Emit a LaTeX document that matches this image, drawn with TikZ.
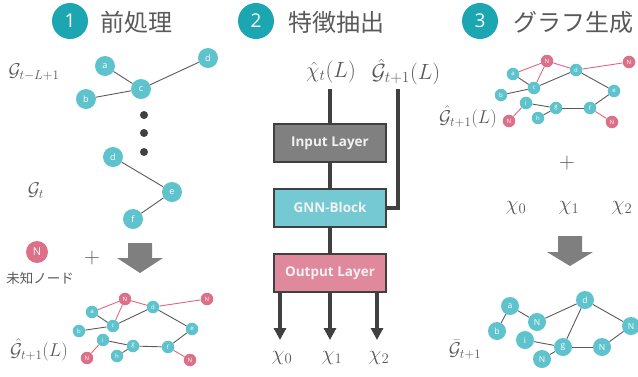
\RequirePackage{fix-cm}
\documentclass[tikz,border=0pt]{standalone}
\usepackage{fontspec}
\setsansfont{Open Sans}
\newfontfamily\jpfont{Noto Sans CJK JP}
\usetikzlibrary{arrows.meta}
\definecolor{headteal}{HTML}{1BA6B2}
\definecolor{nteal}{HTML}{5EC3CC}
\definecolor{npink}{HTML}{DB7088}
\definecolor{edgegray}{HTML}{5A5A5A}
\definecolor{edgered}{HTML}{E06680}
\definecolor{txtgray}{HTML}{595959}
\definecolor{dk}{HTML}{404040}
\definecolor{boxgray}{HTML}{808080}
\definecolor{boxteal}{HTML}{74C9D2}
\definecolor{boxpink}{HTML}{E0889C}
\definecolor{boxtxt}{HTML}{F2F2F2}
\definecolor{arrgray}{HTML}{7F7F7F}
\begin{document}
\begin{tikzpicture}[x=1pt,y=-1pt,
  hnum/.style={circle, fill=headteal, minimum size=36pt, inner sep=0pt, text=white, font=\sffamily\fontsize{19}{19}\selectfont},
  htext/.style={anchor=west, text=txtgray, inner sep=0pt, font=\jpfont\fontsize{24}{24}\selectfont},
  bn/.style={circle, fill=nteal, minimum size=20pt, inner sep=0pt, text=white, font=\sffamily\fontsize{9}{9}\selectfont},
  bnr/.style={bn, fill=npink},
  sn/.style={circle, fill=nteal, minimum size=12.5pt, inner sep=0pt, text=white, font=\sffamily\fontsize{6}{6}\selectfont},
  snr/.style={sn, fill=npink},
  mn/.style={circle, fill=nteal, minimum size=18pt, inner sep=0pt, text=white, font=\sffamily\fontsize{8.5}{8.5}\selectfont},
  ge/.style={draw=edgegray, line width=0.9pt},
  re/.style={draw=edgered, line width=0.9pt},
  lay/.style={draw=dk, line width=2pt, minimum width=112pt, minimum height=38pt, inner sep=0pt, text=boxtxt, font=\sffamily\bfseries\fontsize{13.5}{13.5}\selectfont},
  flow/.style={draw=dk, line width=4pt},
  mlab/.style={text=txtgray, inner sep=0pt, font=\fontsize{18.5}{18.5}\selectfont},
  blab/.style={text=txtgray, inner sep=0pt, font=\fontsize{22}{22}\selectfont},
  xlab/.style={text=txtgray, inner sep=0pt, font=\fontsize{21}{21}\selectfont},
  dotn/.style={circle, fill=dk, minimum size=8pt, inner sep=0pt},
  plus/.style={text=txtgray, inner sep=0pt, font=\fontsize{22}{22}\selectfont},
  tipped/.style={flow, -{Triangle[length=12pt,width=12pt]}}
]
\useasboundingbox (0,0) rectangle (638,376);

% headers
\node[hnum] (h1) at (70,21) {1};
\node[htext] (t1) at (100,22) {前処理};
\node[hnum] (h2) at (256,21) {2};
\node[htext] (t2) at (288,22) {特徴抽出};
\node[hnum] (h3) at (480,21) {3};
\node[htext] (t3) at (513,22) {グラフ生成};

% ---------- panel 1 ----------
\node[mlab] (lg1) at (34,72) {$\mathcal{G}_{t-L+1}$};
\node[bn] (pa) at (105,66) {a};
\node[bn] (pb) at (86,99) {b};
\node[bn] (pc) at (141,89) {c};
\node[bn] (pd) at (208,58) {d};
\draw[ge] (pa) -- (pc);
\draw[ge] (pb) -- (pc);
\draw[ge] (pc) -- (pd);
\node[dotn] (dot1) at (144,115) {};
\node[dotn] (dot2) at (144,133) {};
\node[dotn] (dot3) at (144,152) {};
\node[mlab] (lg2) at (36,191) {$\mathcal{G}_{t}$};
\node[bn] (qd) at (113,157) {d};
\node[bn] (qe) at (172,192) {e};
\node[bn] (qf) at (133,219) {f};
\draw[ge] (qd) -- (qe);
\draw[ge] (qe) -- (qf);

\node[bnr, minimum size=22pt, font=\sffamily\fontsize{11}{11}\selectfont] (unk) at (37,252) {N};
\node[text=txtgray, inner sep=0pt, font=\jpfont\fontsize{13.5}{13.5}\selectfont] (unkl) at (40,278) {未知ノード};
\node[plus] (pl1) at (92,258) {$+$};
\fill[arrgray] (128,243) -- (152,243) -- (152,258) -- (163,258) -- (140,273) -- (117,258) -- (128,258) -- cycle;

% bottom graph panel 1
\node[snr] (rN1) at (125,299) {N};
\node[snr] (rN2) at (207,299) {N};
\node[sn] (ra) at (92,312) {a};
\node[sn] (rd) at (153,307) {d};
\node[sn] (rc) at (113,326) {c};
\node[sn] (rb) at (79,331) {b};
\node[sn] (re) at (192,329) {e};
\node[sn] (ri) at (103,340) {i};
\node[sn] (rg) at (133,346) {g};
\node[sn] (rf) at (168,347) {f};
\node[snr] (rN3) at (87,358) {N};
\node[sn] (rh) at (117,356) {h};
\node[snr] (rN4) at (190,360) {N};
\draw[ge] (ra) -- (rc); \draw[ge] (rb) -- (rc); \draw[ge] (rc) -- (rd);
\draw[ge] (rd) -- (re); \draw[ge] (re) -- (rf); \draw[ge] (ri) -- (rg);
\draw[ge] (rg) -- (rf); \draw[ge] (rh) -- (rg);
\draw[re] (ra) -- (rN1); \draw[re] (rN1) -- (rc); \draw[re] (rN1) -- (rd);
\draw[re] (rd) -- (rN2); \draw[re] (ri) -- (rN3); \draw[re] (rf) -- (rN4);
\node[mlab] (lg3) at (39,350) {$\hat{\mathcal{G}}_{t+1}(L)$};

% ---------- panel 2 ----------
\node[blab] (lx) at (331,72) {$\hat{\chi}_{t}(L)$};
\node[blab] (lgg) at (406,72) {$\hat{\mathcal{G}}_{t+1}(L)$};
\node[lay, fill=boxgray] (inp) at (330,143) {Input Layer};
\node[lay, fill=boxteal] (gnn) at (330,207.5) {GNN-Block};
\node[lay, fill=boxpink] (outp) at (330,273) {Output Layer};
\coordinate (xtop) at (330,89);
\coordinate (gtop) at (398,89);
\coordinate (gcor) at (398,207.5);
\draw[flow] (xtop) -- (inp);
\draw[flow] (inp) -- (gnn);
\draw[flow] (gnn) -- (outp);
\draw[flow] (gtop) -- (gcor) -- (gnn.east);
\node[xlab] (x0) at (282,358) {$\chi_0$};
\node[xlab] (x1) at (332,358) {$\chi_1$};
\node[xlab] (x2) at (379,358) {$\chi_2$};
\coordinate (tip0) at (280,340);
\coordinate (tip1) at (330,340);
\coordinate (tip2) at (377,340);
\draw[tipped] (outp.south -| tip0) -- (tip0);
\draw[tipped] (outp.south -| tip1) -- (tip1);
\draw[tipped] (outp.south -| tip2) -- (tip2);

% ---------- panel 3 ----------
\node[snr] (sN1) at (547,61) {N};
\node[snr] (sN2) at (629,62) {N};
\node[sn] (sa) at (513,74) {a};
\node[sn] (sd) at (576,70) {d};
\node[sn] (sc) at (534,88) {c};
\node[sn] (sb) at (501,95) {b};
\node[sn] (se) at (614,91) {e};
\node[sn] (si) at (526,103) {i};
\node[sn] (sg) at (556,108) {g};
\node[sn] (sf) at (590,108) {f};
\node[snr] (sN3) at (509,121) {N};
\node[sn] (sh) at (538,118) {h};
\node[snr] (sN4) at (612,122) {N};
\draw[ge] (sa) -- (sc); \draw[ge] (sb) -- (sc); \draw[ge] (sc) -- (sd);
\draw[ge] (sd) -- (se); \draw[ge] (se) -- (sf); \draw[ge] (si) -- (sg);
\draw[ge] (sg) -- (sf); \draw[ge] (sh) -- (sg);
\draw[re] (sa) -- (sN1); \draw[re] (sN1) -- (sc); \draw[re] (sN1) -- (sd);
\draw[re] (sd) -- (sN2); \draw[re] (si) -- (sN3); \draw[re] (sf) -- (sN4);
\node[mlab] (lg4) at (468,117) {$\hat{\mathcal{G}}_{t+1}(L)$};
\node[plus] (pl2) at (567,163) {$+$};
\node[xlab] (y0) at (516,208) {$\chi_0$};
\node[xlab] (y1) at (569,208) {$\chi_1$};
\node[xlab] (y2) at (622,208) {$\chi_2$};
\fill[arrgray] (558,236) -- (582,236) -- (582,252) -- (593,252) -- (570,266) -- (547,252) -- (558,252) -- cycle;

\node[mn] (ua) at (510,306) {a};
\node[mn] (ub) at (497,331) {b};
\node[mn] (uN1) at (537,322) {N};
\node[mn] (ud) at (585,300) {d};
\node[mn] (uN2) at (631,326) {N};
\node[mn] (ui) at (525,340) {i};
\node[mn] (ug) at (563,347) {g};
\node[mn] (uN3) at (602,347) {N};
\node[mn] (uN4) at (542,359) {N};
\draw[ge] (ua) -- (ub); \draw[ge] (ua) -- (uN1); \draw[ge] (uN1) -- (ud);
\draw[ge] (ud) -- (uN2); \draw[ge] (ud) -- (ug); \draw[ge] (uN2) -- (uN3);
\draw[ge] (ug) -- (uN3); \draw[ge] (ui) -- (ug); \draw[ge] (ug) -- (uN4);
\node[mlab] (lg5) at (465,350) {$\bar{\mathcal{G}}_{t+1}$};
\end{tikzpicture}
\end{document}
